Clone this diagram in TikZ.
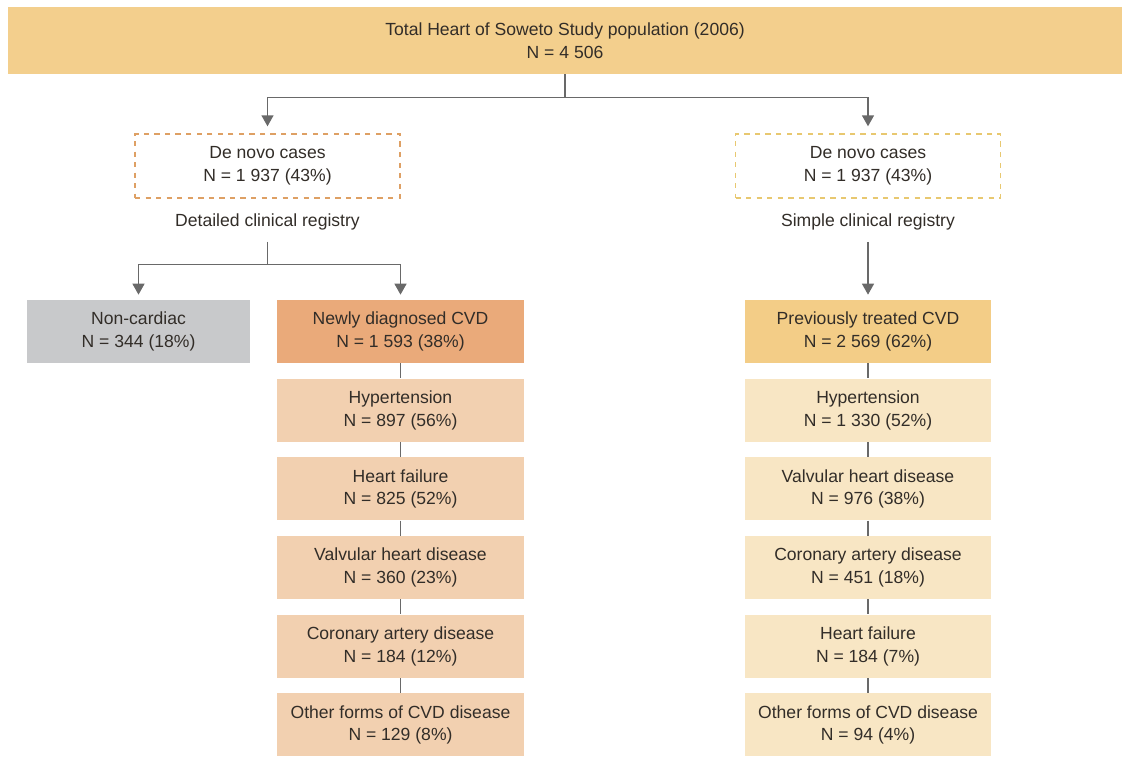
\documentclass[tikz,border=0pt]{standalone}
\usepackage{fontspec}
\setmainfont{Liberation Sans}
\usepackage{xcolor}
\usepackage{tikz}
\usetikzlibrary{arrows.meta,positioning}

\definecolor{bannerfill}{RGB}{243,207,141}
\definecolor{newfill}{RGB}{234,170,122}
\definecolor{newsub}{RGB}{242,208,176}
\definecolor{prevfill}{RGB}{243,205,135}
\definecolor{prevsub}{RGB}{248,230,196}
\definecolor{nonfill}{RGB}{200,201,203}
\definecolor{dashL}{RGB}{222,160,100}
\definecolor{dashR}{RGB}{232,200,112}
\definecolor{linegray}{RGB}{105,105,105}
\definecolor{txt}{RGB}{50,45,40}

\begin{document}
\begin{tikzpicture}[
  x=0.02cm, y=0.02cm,
  node distance=0.3cm,
  every node/.style={font=\fontsize{10}{13}\selectfont, text=txt},
  banner/.style={fill=bannerfill, align=center, minimum width=22.28cm,
                 minimum height=1.34cm, inner sep=0pt},
  denovo/.style={draw, dashed, thick, align=center, minimum width=5.3cm,
                 minimum height=1.28cm, fill=white, inner sep=0pt},
  colbox/.style={align=center, minimum width=4.94cm, minimum height=1.26cm,
                 inner sep=0pt},
  arr/.style={-{Triangle[length=2.2mm,width=2.4mm]}, linegray, line width=0.8pt},
  link/.style={linegray, line width=0.8pt},
]
\useasboundingbox (0,0) rectangle (1122,-758);

\node[banner] (total) at (565,-40.5)
  {Total Heart of Soweto Study population (2006)\\N = 4 506};

\node[denovo, draw=dashL] (dnL) at (267.5,-166) {De novo cases\\N = 1 937 (43\%)};
\node[denovo, draw=dashR] (dnR) at (868,-166)   {De novo cases\\N = 1 937 (43\%)};

\node[below=0.3cm of dnL, inner sep=0pt] (regL) {Detailed clinical registry};
\node[below=0.3cm of dnR, inner sep=0pt] (regR) {Simple clinical registry};

% left branch
\node[colbox, fill=nonfill, minimum width=4.46cm] (noncard) at (138.5,-331.5)
  {Non-cardiac\\N = 344 (18\%)};
\node[colbox, fill=newfill] (newcvd) at (400.5,-331.5)
  {Newly diagnosed CVD\\N = 1 593 (38\%)};
\node[colbox, fill=newsub, below=of newcvd] (hypL)   {Hypertension\\N = 897 (56\%)};
\node[colbox, fill=newsub, below=of hypL]   (hfL)    {Heart failure\\N = 825 (52\%)};
\node[colbox, fill=newsub, below=of hfL]    (valvL)  {Valvular heart disease\\N = 360 (23\%)};
\node[colbox, fill=newsub, below=of valvL]  (cadL)   {Coronary artery disease\\N = 184 (12\%)};
\node[colbox, fill=newsub, below=of cadL]   (otherL) {Other forms of CVD disease\\N = 129 (8\%)};

% right branch
\node[colbox, fill=prevfill] (prevcvd) at (868,-331.5)
  {Previously treated CVD\\N = 2 569 (62\%)};
\node[colbox, fill=prevsub, below=of prevcvd] (hypR)   {Hypertension\\N = 1 330 (52\%)};
\node[colbox, fill=prevsub, below=of hypR]    (valvR)  {Valvular heart disease\\N = 976 (38\%)};
\node[colbox, fill=prevsub, below=of valvR]   (cadR)   {Coronary artery disease\\N = 451 (18\%)};
\node[colbox, fill=prevsub, below=of cadR]    (hfR)    {Heart failure\\N = 184 (7\%)};
\node[colbox, fill=prevsub, below=of hfR]     (otherR) {Other forms of CVD disease\\N = 94 (4\%)};

\draw[arr, shorten >=1.4mm] (total.south) -- ++(0,-0.46cm) -| (dnL.north);
\draw[arr, shorten >=1.4mm] (total.south) -- ++(0,-0.46cm) -| (dnR.north);

\draw[arr, shorten <=2.2mm, shorten >=1mm] (regL.south) -- ++(0,-0.68cm) -| (noncard.north);
\draw[arr, shorten <=2.2mm, shorten >=1mm] (regL.south) -- ++(0,-0.68cm) -| (newcvd.north);
\draw[arr, shorten <=2.2mm, shorten >=1mm] (regR.south) -- (prevcvd.north);

\foreach \a/\b in {newcvd/hypL, hypL/hfL, hfL/valvL, valvL/cadL, cadL/otherL,
                   prevcvd/hypR, hypR/valvR, valvR/cadR, cadR/hfR, hfR/otherR}
  \draw[link] (\a.south) -- (\b.north);
\end{tikzpicture}
\end{document}
